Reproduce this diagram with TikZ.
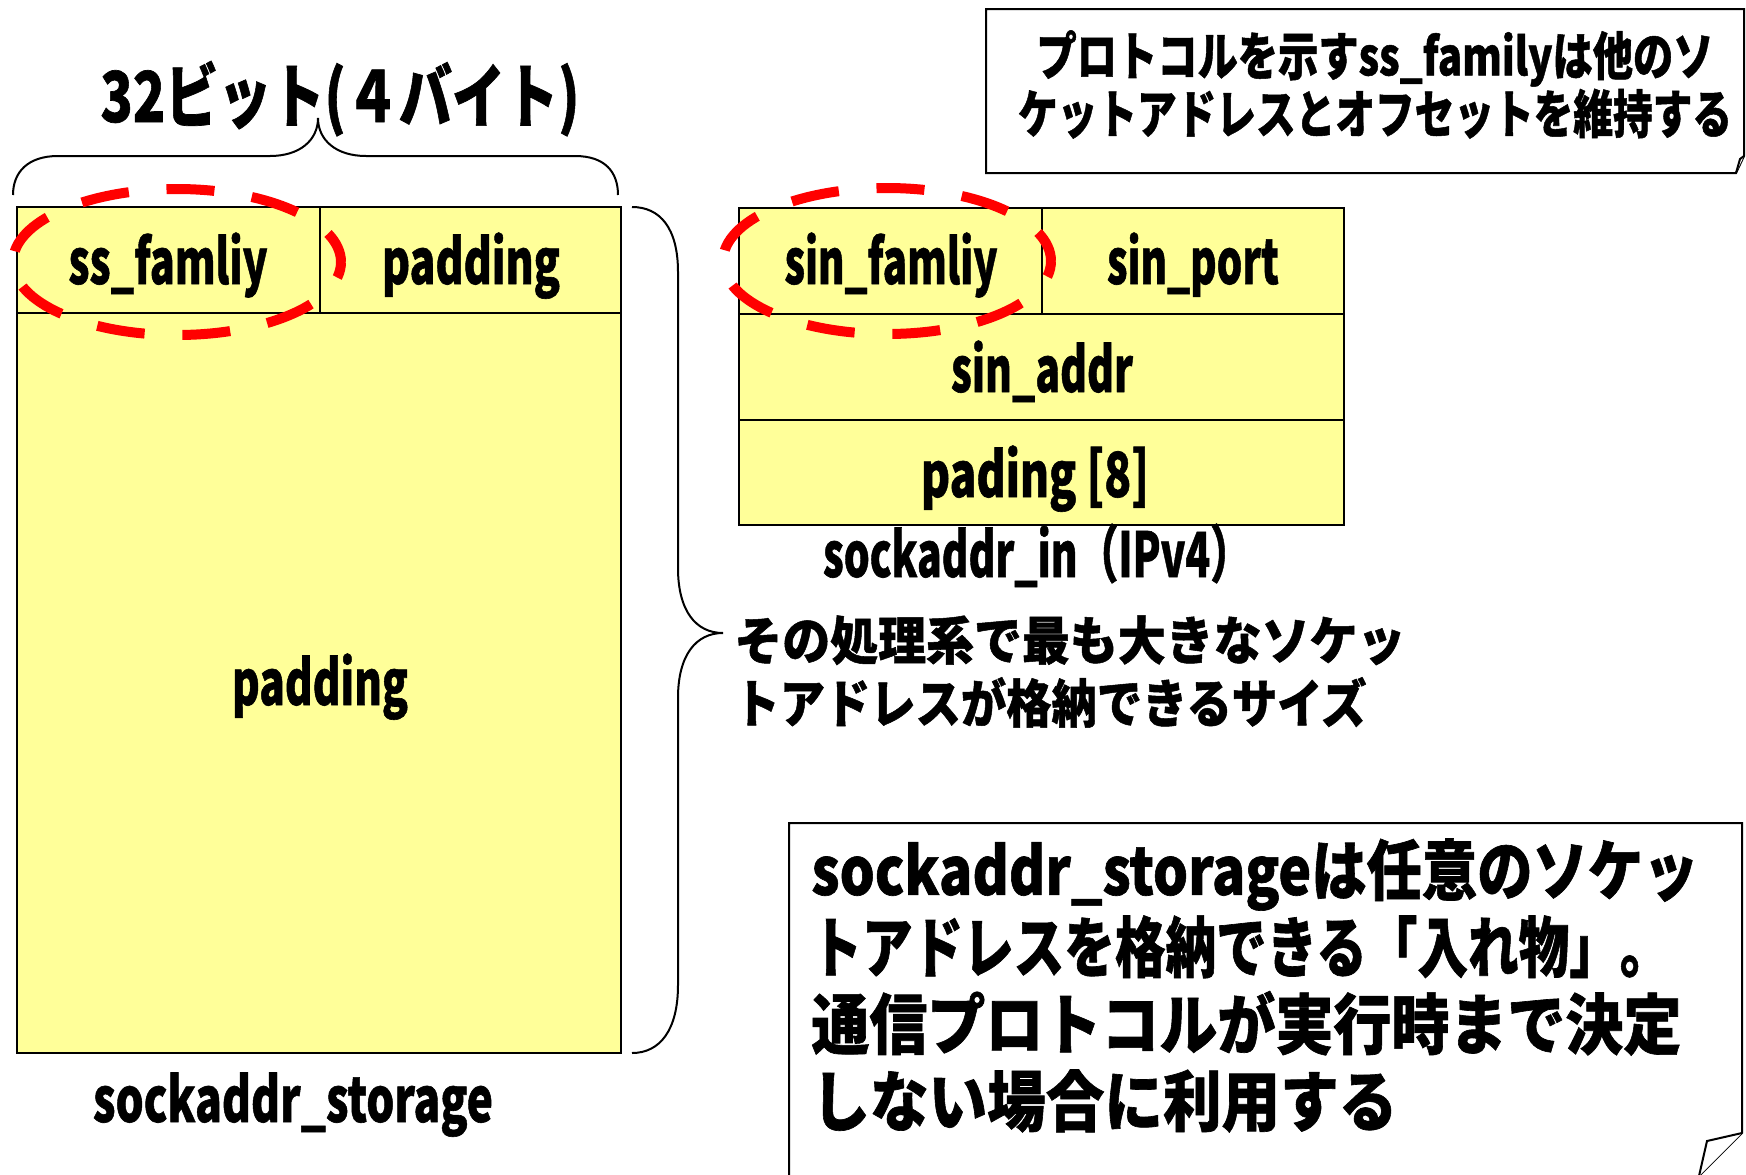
\documentclass[tikz,border=0pt]{standalone}
\usepackage{fontspec}
\usepackage{graphicx}
\newfontfamily\jpf{Noto Sans CJK JP}[BoldFeatures={FakeBold=1}]
\newcommand\fitw[2]{\resizebox{#1}{\height}{#2}}
\definecolor{cellyellow}{HTML}{FFFF99}
\definecolor{ovalred}{HTML}{FF0000}
\begin{document}
\begin{tikzpicture}[x=0.5pt,y=-0.5pt,
  cell/.style={draw=black, line width=1.2pt, fill=cellyellow, inner sep=0pt},
  lbl/.style={inner sep=0pt, anchor=base, font=\jpf\bfseries\fontsize{31pt}{36pt}\selectfont},
  oval/.style={draw=ovalred, line width=5pt, dash pattern=on 24pt off 18.9pt, dash phase=8pt},
  bracestyle/.style={draw=black, line width=1pt},
  notestyle/.style={draw=black, line width=1pt, fill=white, line join=miter},
  blocktext/.style={inner sep=0pt, font=\jpf\bfseries}
]
\useasboundingbox[fill=white] (0,0) rectangle (1746,1174);

% title and top brace
\node[lbl, font=\jpf\bfseries\fontsize{35pt}{40pt}\selectfont] (title) at (340,122) {\fitw{239.5pt}{32ビット(４バイト)}};
\draw[bracestyle] (13,195) .. controls (13,172) and (28,156) .. (58,156) -- (270,156)
  .. controls (300,156) and (318,140) .. (318,118)
  .. controls (318,140) and (336,156) .. (366,156) -- (575,156)
  .. controls (605,156) and (618,172) .. (618,195);

% sockaddr_storage cells
\node[cell, minimum width=151.5pt, minimum height=53pt] (ssf) at (168.5,260) {};
\node[cell, minimum width=150.5pt, minimum height=53pt] (padtop) at (470.5,260) {};
\node[cell, minimum width=302pt, minimum height=370pt] (padbig) at (319,683) {};

% sockaddr_in cells
\node[cell, minimum width=151.5pt, minimum height=53pt] (sinf) at (890.5,261) {};
\node[cell, minimum width=151pt, minimum height=53pt] (sinp) at (1193,261) {};
\node[cell, minimum width=302.5pt, minimum height=53pt] (sina) at (1041.5,367) {};
\node[cell, minimum width=302.5pt, minimum height=52.5pt] (pad8) at (1041.5,472.5) {};

% red dashed ovals
\draw[oval] (177,262) ellipse [x radius=82pt, y radius=36.5pt];
\draw[oval] (887,261) ellipse [x radius=82pt, y radius=36.5pt];

% labels
\node[lbl] (tssf) at (168,284) {\fitw{99.5pt}{ss\_famliy}};
\node[lbl] (tpadtop) at (471,284) {\fitw{89pt}{padding}};
\node[lbl] (tpadbig) at (320,705) {\fitw{88pt}{padding}};
\node[lbl] (tstorage) at (293,1122) {\fitw{200pt}{sockaddr\_storage}};
\node[lbl] (tsinf) at (891,284) {\fitw{106.5pt}{sin\_famliy}};
\node[lbl] (tsinp) at (1193,284) {\fitw{86pt}{sin\_port}};
\node[lbl] (tsina) at (1042,392) {\fitw{91pt}{sin\_addr}};
\node[lbl] (tpad8) at (1035,497) {\fitw{114pt}{pading [8]}};
\node[lbl] (tsin) at (1037,577) {\fitw{214pt}{sockaddr\_in（IPv4）}};

% right brace and its text
\draw[bracestyle] (632,207) .. controls (660,207) and (678,228) .. (678,272) -- (678,568)
  .. controls (678,611) and (696,633) .. (723,633)
  .. controls (696,633) and (678,655) .. (678,698) -- (678,985)
  .. controls (678,1030) and (660,1053) .. (632,1053);
\node[blocktext, anchor=west, align=left, font=\jpf\bfseries\fontsize{26pt}{31.5pt}\selectfont] (sizetext) at (734,671.5)
  {\fitw{335.5pt}{その処理系で最も大きなソケッ}\\\fitw{316pt}{トアドレスが格納できるサイズ}};

% top note
\draw[notestyle] (1736,173) -- (986,173) -- (986,9) -- (1744,9) -- (1744,156) -- cycle;
\draw[notestyle] (1744,156) -- (1740,159) -- (1736,173);
\node[blocktext, align=center, font=\jpf\bfseries\fontsize{26pt}{27.5pt}\selectfont] (note1) at (1375,84.5)
  {\fitw{338.5pt}{プロトコルを示すss\_familyは他のソ}\\\fitw{357pt}{ケットアドレスとオフセットを維持する}};

% bottom note
\draw[notestyle] (789,1180) -- (789,823) -- (1742,823) -- (1742,1133) -- (1699,1176);
\draw[notestyle] (1742,1133) -- (1707,1141) -- (1699,1176);
\node[blocktext, anchor=west, align=left, font=\jpf\bfseries\fontsize{33pt}{38.5pt}\selectfont] (note2) at (811,985.5)
  {\fitw{443.5pt}{sockaddr\_storageは任意のソケッ}\\
   \fitw{429.5pt}{トアドレスを格納できる「入れ物」。}\\
   \fitw{435pt}{通信プロトコルが実行時まで決定}\\
   \fitw{293pt}{しない場合に利用する}};
\end{tikzpicture}
\end{document}
